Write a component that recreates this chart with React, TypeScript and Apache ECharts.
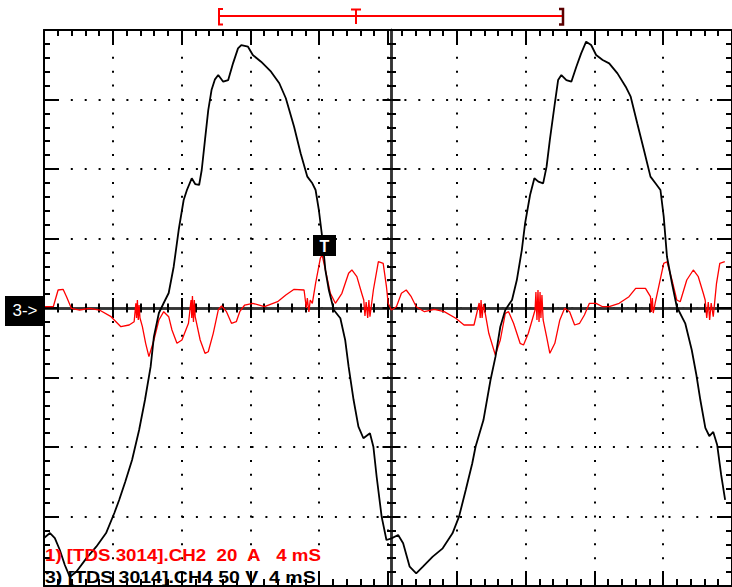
import React, { useEffect, useRef } from "react";
import * as echarts from "echarts";

// Time base: 4 ms/div, 10 divisions
const TIME_MIN = 0;
const TIME_MAX = 40;
const TIME_STEP = 4;
// CH4 voltage: 50 V/div, 8 divisions
const VOLT_MIN = -200;
const VOLT_MAX = 200;
const VOLT_STEP = 50;
// CH2 current: 20 A/div
const AMP_MIN = -80;
const AMP_MAX = 80;
const AMP_STEP = 20;

// [time ms, volts]
const voltageTrace: number[][] = [
  [0, -165.5], [0.35, -161.9], [0.63, -165.5], [0.92, -174.1], [1.21, -184.9], [1.5, -193.5],
  [1.88, -189.7], [2.46, -180.1], [3.04, -171.7], [3.61, -161.9], [4.09, -147.5], [4.37, -138.1],
  [4.72, -125.2], [5.12, -109.4], [5.53, -87.8], [5.87, -66.2], [6.2, -42.2], [6.39, -20.6],
  [6.68, -3.6], [6.96, 3.6], [7.25, 10.8], [7.54, 29.7], [7.83, 56.1], [8.12, 77.7], [8.31, 84.9],
  [8.59, 93.3], [8.79, 89.2], [9.02, 88.5], [9.17, 99.3], [9.36, 120.9], [9.55, 142.4], [9.74, 156.8],
  [9.94, 164.5], [10.13, 167.6], [10.42, 162.8], [10.71, 164.0], [10.99, 176.0], [11.28, 186.8],
  [11.47, 189.2], [11.86, 188.0], [12.14, 182.0], [12.62, 177.2], [13.2, 170.0], [13.68, 161.7],
  [14.06, 150.9], [14.54, 130.4], [14.92, 111.3], [15.31, 94.5], [15.6, 89.7], [15.79, 84.9],
  [15.98, 70.5], [16.17, 51.3], [16.36, 27.3], [16.56, 12.9], [16.85, -1.4], [17.23, -7.4],
  [17.51, -23.0], [17.71, -42.2], [18.0, -66.2], [18.28, -85.4], [18.57, -93.7], [18.95, -90.1],
  [19.15, -99.8], [19.34, -121.4], [19.63, -150.1], [19.91, -166.9], [20.2, -165.7], [20.59, -163.3],
  [20.88, -169.3], [21.26, -186.1], [21.64, -190.9], [22.03, -186.1], [22.6, -178.9], [23.18, -172.9],
  [23.75, -162.1], [24.13, -150.1], [24.52, -130.9], [24.9, -111.7], [25.09, -99.8], [25.55, -80.6],
  [25.96, -51.8], [26.25, -35.0], [26.53, -13.5], [26.82, -1.4], [27.21, 5.8], [27.49, 20.1],
  [27.78, 41.7], [27.97, 60.9], [28.26, 81.3], [28.51, 93.3], [28.74, 90.9], [29.02, 89.7],
  [29.22, 101.7], [29.41, 120.9], [29.7, 147.3], [29.89, 164.0], [30.08, 167.6], [30.37, 164.0],
  [30.66, 162.8], [30.95, 173.6], [31.23, 183.2], [31.52, 191.6], [31.81, 189.2], [32.1, 182.0],
  [32.48, 178.4], [32.86, 176.0], [33.34, 168.8], [33.82, 159.2], [34.11, 152.0], [34.49, 132.9],
  [34.88, 113.7], [35.26, 94.5], [35.55, 89.7], [35.84, 84.9], [36.03, 65.7], [36.22, 36.9],
  [36.51, 17.8], [36.79, 0.9], [37.28, -11.0], [37.66, -30.2], [37.93, -48.2], [38.16, -66.2],
  [38.45, -86.3], [38.68, -92.1], [38.91, -89.2], [39.14, -98.6], [39.37, -120.1], [39.6, -138.1],
];

// [time ms, amps]
const currentTrace: number[][] = [
  [0.06, 0.37], [0.54, 0.37], [0.82, 5.18], [1.11, 5.38], [1.31, 3.25], [1.59, -0.09], [2.07, -0.58],
  [2.65, -0.09], [3.22, -0.58], [3.9, -2.5], [4.47, -5.38], [4.95, -4.89], [5.24, -3.94], [5.34, 1.35],
  [5.38, -2.88], [5.43, 2.3], [5.48, -3.45], [5.53, 0.86], [5.58, -2.88], [5.72, -5.38], [5.91, -10.16],
  [6.1, -14.01], [6.39, -9.21], [6.68, -3.45], [6.96, -1.06], [7.25, -2.5], [7.44, -6.33], [7.73, -10.16],
  [8.02, -9.21], [8.4, -4.4], [8.55, 2.3], [8.59, -2.88], [8.63, 3.45], [8.69, -4.03], [8.74, 2.3],
  [8.79, -2.5], [9.08, -9.21], [9.36, -13.04], [9.55, -12.58], [9.84, -7.28], [10.13, -0.58],
  [10.32, 0.58], [10.61, -1.06], [10.9, -4.4], [11.18, -3.94], [11.38, -1.06], [11.67, 0.86],
  [12.14, 1.35], [12.82, 0.37], [13.58, 1.81], [14.06, 3.74], [14.54, 5.38], [15.12, 5.18], [15.25, 0],
  [15.31, 2.88], [15.4, -1.15], [15.48, 2.3], [15.6, 1.35], [15.79, 7.11], [16.07, 14.39], [16.17, 15.25],
  [16.36, 10.94], [16.65, 4.23], [16.94, 1.35], [17.32, 4.23], [17.71, 9.99], [17.9, 10.94], [18.19, 9.01],
  [18.47, 4.23], [18.59, 2.3], [18.66, -2.3], [18.73, 1.73], [18.82, -2.88], [18.89, 2.3], [18.95, -2.5],
  [19.15, 5.18], [19.44, 13.32], [19.72, 12.86], [19.91, 6.13], [20.01, 1.35], [20.2, -0.58],
  [20.49, 0.37], [20.78, 4.23], [21.06, 5.18], [21.35, 3.25], [21.64, 0.37], [22.12, -1.06],
  [22.69, -0.37], [23.27, -1.06], [23.94, -2.96], [24.42, -4.89], [25.0, -4.89], [25.3, 1.44],
  [25.36, -2.88], [25.41, 2.3], [25.47, -2.88], [25.55, 1.15], [25.67, -2.01], [25.86, -7.28],
  [26.24, -13.53], [26.53, -9.21], [26.82, -1.53], [27.01, -1.06], [27.3, -4.4], [27.68, -10.16],
  [27.88, -10.65], [28.16, -7.28], [28.55, -0.58], [28.6, 4.6], [28.66, -3.45], [28.72, 5.18],
  [28.78, -4.03], [28.84, 4.6], [28.89, -2.88], [28.95, 3.74], [29.02, -3.45], [29.22, -8.26],
  [29.41, -13.04], [29.7, -10.16], [29.99, -3.45], [30.27, -0.09], [30.56, -1.06], [30.85, -4.89],
  [31.14, -4.4], [31.42, -2.01], [31.71, 1.35], [32.1, 1.35], [32.48, 0.37], [32.86, 0.37],
  [33.44, 1.35], [34.01, 3.25], [34.4, 5.67], [34.97, 5.67], [35.26, 3.25], [35.31, -1.15],
  [35.37, 2.88], [35.42, -1.44], [35.55, 1.81], [35.74, 6.13], [36.03, 12.86], [36.22, 13.32],
  [36.51, 8.06], [36.79, 2.3], [36.99, 1.81], [37.37, 8.06], [37.75, 10.94], [38.04, 9.01],
  [38.33, 4.23], [38.44, 2.3], [38.53, -2.88], [38.62, 1.73], [38.7, -3.45], [38.79, 1.44],
  [38.91, -2.5], [39.1, 7.11], [39.29, 12.86], [39.58, 13.32],
];

const CH2_LABEL = "1) [TDS 3014].CH2\u00a0 20\u00a0 A\u00a0\u00a0 4 mS";
const CH4_LABEL = "3) [TDS 3014].CH4 50 V\u00a0 4 mS";
const REF_MARKER = "3->";
const TRIG_MARKER = "T";

const FONT = '"Liberation Sans", Arial, sans-serif';

function makeAxis(
  dim: "x" | "y",
  position: string,
  offset: number,
  inside: boolean,
  major: number,
  minor: number,
  lineColor: string,
  lineWidth: number,
  dotted: boolean
) {
  const isX = dim === "x";
  return {
    type: "value",
    min: isX ? TIME_MIN : VOLT_MIN,
    max: isX ? TIME_MAX : VOLT_MAX,
    interval: isX ? TIME_STEP : VOLT_STEP,
    position,
    offset,
    axisLine: { show: true, onZero: false, lineStyle: { color: lineColor, width: lineWidth } },
    axisTick: { show: true, inside, length: major, lineStyle: { color: "#000", width: 2 } },
    minorTick: { show: true, splitNumber: 5, length: minor, lineStyle: { color: "#000", width: 2 } },
    axisLabel: { show: false },
    splitLine: dotted
      ? { show: true, lineStyle: { color: "#000", width: 2, type: [2, 11.9], dashOffset: 1 } }
      : { show: false },
    minorSplitLine: { show: false },
  };
}

export default function App() {
  const ref = useRef<HTMLDivElement>(null);

  useEffect(() => {
    if (!ref.current) return;
    const chart = echarts.init(ref.current, undefined, { renderer: "svg" });
    const red = "#ff0000";
    const option: any = {
      animation: false,
      backgroundColor: "#fff",
      grid: { left: 44, top: 30, width: 695, height: 556, show: false },
      xAxis: [
        makeAxis("x", "bottom", 0, true, 14, 7, "#000", 2, true),
        makeAxis("x", "top", 0, true, 14, 6, "#000", 2, false),
        makeAxis("x", "bottom", -278, true, 10, 4.5, "#333", 2.5, false),
        makeAxis("x", "bottom", -278, false, 10, 4.5, "#333", 2.5, false),
      ],
      yAxis: [
        makeAxis("y", "left", 0, true, 15, 6, "#000", 2, true),
        makeAxis("y", "right", 0, true, 15, 6, "#000", 2, false),
        makeAxis("y", "left", -347.5, true, 9, 4.5, "#333", 2.5, false),
        makeAxis("y", "left", -347.5, false, 9, 4.5, "#333", 2.5, false),
        {
          type: "value",
          min: AMP_MIN,
          max: AMP_MAX,
          interval: AMP_STEP,
          show: false,
          axisLine: { onZero: false },
        },
      ],
      series: [
        {
          name: "CH2",
          type: "line",
          xAxisIndex: 0,
          yAxisIndex: 4,
          data: currentTrace,
          symbol: "none",
          silent: true,
          lineStyle: { color: red, width: 1.3 },
          z: 3,
        },
        {
          name: "CH4",
          type: "line",
          xAxisIndex: 0,
          yAxisIndex: 0,
          data: voltageTrace,
          symbol: "none",
          silent: true,
          lineStyle: { color: "#000", width: 1.8 },
          z: 4,
        },
      ],
      graphic: [
        { type: "line", z: 100, shape: { x1: 219, y1: 16, x2: 563, y2: 16 }, style: { stroke: red, lineWidth: 2 } },
        {
          type: "polyline",
          z: 100,
          shape: { points: [[223, 9], [219, 9], [219, 24.5], [223, 24.5]] },
          style: { stroke: red, lineWidth: 2, fill: null },
        },
        { type: "line", z: 100, shape: { x1: 356, y1: 9, x2: 356, y2: 24 }, style: { stroke: red, lineWidth: 2 } },
        { type: "line", z: 100, shape: { x1: 351, y1: 9.5, x2: 361, y2: 9.5 }, style: { stroke: red, lineWidth: 2 } },
        {
          type: "polyline",
          z: 100,
          shape: { points: [[559, 9], [563, 9], [563, 24.5], [559, 24.5]] },
          style: { stroke: "#5a0000", lineWidth: 2.5, fill: null },
        },
        { type: "rect", z: 100, shape: { x: 5, y: 296, width: 39, height: 30 }, style: { fill: "#000" } },
        {
          type: "text",
          z: 101,
          x: 25,
          y: 310,
          style: { text: REF_MARKER, fill: "#fff", font: `17px ${FONT}`, align: "center", verticalAlign: "middle" },
        },
        { type: "rect", z: 100, shape: { x: 313, y: 235, width: 23, height: 21 }, style: { fill: "#000" } },
        {
          type: "text",
          z: 101,
          x: 324.5,
          y: 246,
          style: { text: TRIG_MARKER, fill: "#fff", font: `bold 16px ${FONT}`, align: "center", verticalAlign: "middle" },
        },
        {
          type: "text",
          z: 101,
          x: 45,
          y: 555.5,
          scaleX: 1.17,
          style: { text: CH2_LABEL, fill: red, font: `bold 16px ${FONT}`, align: "left", verticalAlign: "middle" },
        },
        {
          type: "text",
          z: 101,
          x: 45,
          y: 576.5,
          scaleX: 1.3,
          scaleY: 1.15,
          style: { text: CH4_LABEL, fill: "#000", font: `bold 15px ${FONT}`, align: "left", verticalAlign: "middle" },
        },
      ],
    };
    chart.setOption(option);
    return () => chart.dispose();
  }, []);

  return (
    <div
      ref={ref}
      style={{ position: "absolute", left: 0, top: 0, width: 732, height: 587, background: "#fff" }}
    />
  );
}
